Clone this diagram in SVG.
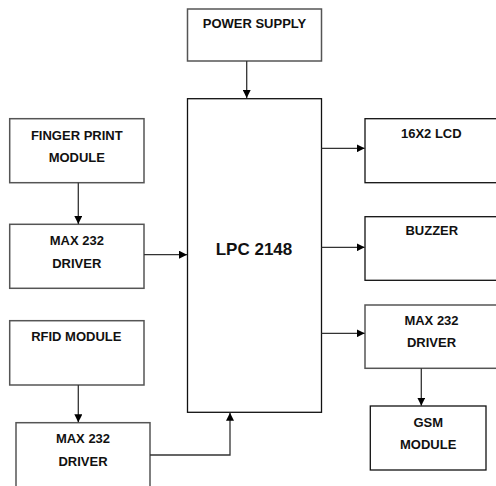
<svg xmlns="http://www.w3.org/2000/svg" width="496" height="486" viewBox="0 0 496 486">
<defs>
<marker id="ah" viewBox="0 0 8 8" refX="8" refY="4" markerWidth="8" markerHeight="8" markerUnits="userSpaceOnUse" orient="auto">
<path d="M0,0 L8,4 L0,8 Z" fill="#000"/>
</marker>
<style>
.box{fill:#fff;stroke:#555;stroke-width:1.5}
.dark{fill:#fff;stroke:#111;stroke-width:1.3}
.lbl{font-family:"Liberation Sans",Arial,sans-serif;font-weight:bold;font-size:13px;fill:#111;text-anchor:middle}
.big{font-size:17px}
.wire{fill:none;stroke:#333;stroke-width:1.3;marker-end:url(#ah)}
</style>
</defs>
<rect width="496" height="486" fill="#fff"/>
<g id="power">
<rect class="box" x="187.5" y="9" width="134" height="52"/>
<text class="lbl" x="254.5" y="28">POWER SUPPLY</text>
</g>
<g id="lpc">
<rect class="dark" x="187.5" y="98.7" width="134" height="313.6"/>
<text class="lbl big" x="254" y="255">LPC 2148</text>
</g>
<g id="finger">
<rect class="box" x="9.7" y="118.7" width="134.3" height="64"/>
<text class="lbl" x="76.8" y="140">FINGER PRINT</text>
<text class="lbl" x="76.8" y="161.7">MODULE</text>
</g>
<g id="max1">
<rect class="box" x="9.7" y="224.3" width="134.3" height="64"/>
<text class="lbl" x="76.8" y="245">MAX 232</text>
<text class="lbl" x="76.8" y="267.7">DRIVER</text>
</g>
<g id="rfid">
<rect class="box" x="9.7" y="320.7" width="134.3" height="64.3"/>
<text class="lbl" x="76.3" y="340.7">RFID MODULE</text>
</g>
<g id="max2">
<rect class="box" x="16" y="422.7" width="134" height="70"/>
<text class="lbl" x="83" y="443.3">MAX 232</text>
<text class="lbl" x="83" y="465.7">DRIVER</text>
</g>
<g id="lcd">
<rect class="dark" x="365" y="118.7" width="135" height="64"/>
<text class="lbl" x="431.3" y="137.7">16X2 LCD</text>
</g>
<g id="buzzer">
<rect class="dark" x="365" y="216.7" width="135" height="63.6"/>
<text class="lbl" x="431.8" y="235">BUZZER</text>
</g>
<g id="max3">
<rect class="box" x="365" y="305" width="135" height="63.3"/>
<text class="lbl" x="431.5" y="325">MAX 232</text>
<text class="lbl" x="431.5" y="347.3">DRIVER</text>
</g>
<g id="gsm">
<rect class="dark" x="370.3" y="406" width="115.7" height="64"/>
<text class="lbl" x="428.2" y="427.3">GSM</text>
<text class="lbl" x="428.2" y="449.3">MODULE</text>
</g>
<g id="connectors">
<path class="wire" d="M246.7,61 V98"/>
<path class="wire" d="M78.3,182.7 V224"/>
<path class="wire" d="M144,254.7 H187"/>
<path class="wire" d="M78.3,385 V422.3"/>
<path class="wire" d="M150,455 H230 V412.7"/>
<path class="wire" d="M321.5,148.3 H364.7"/>
<path class="wire" d="M321.5,247.3 H364.7"/>
<path class="wire" d="M321.5,333.3 H364.7"/>
<path class="wire" d="M421.3,368.3 V405.7"/>
</g>
</svg>
